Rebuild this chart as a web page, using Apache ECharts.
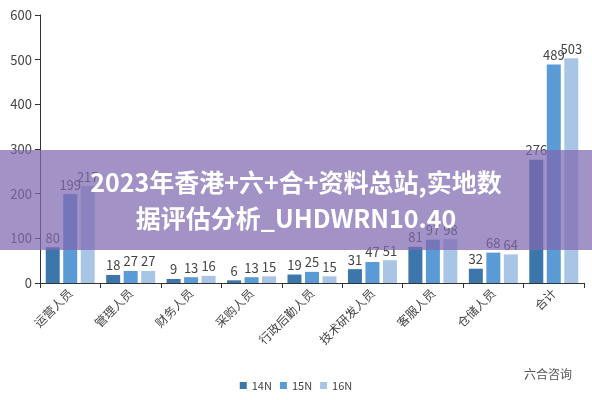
<!DOCTYPE html><html><head><meta charset="utf-8"><script src="https://cdn.jsdelivr.net/npm/echarts@6/dist/echarts.min.js"></script></head><body style="margin:0"><div id="c" style="width:592px;height:400px"></div><script>
const categories=['运营人员','管理人员','财务人员','采购人员','行政后勤人员','技术研发人员','客服人员','仓储人员','合计'];
const s14=[80,18,9,6,19,31,81,32,276];
const s15=[199,27,13,13,25,47,97,68,489];
const s16=[217,27,16,15,15,51,98,64,503];
const ch=echarts.init(document.getElementById('c'));
const mk=(n,d,c)=>({name:n,type:'bar',data:d,barWidth:14,barGap:'25%',itemStyle:{color:c},label:{show:true,position:'top',color:'#444',fontSize:13,distance:3}});
ch.setOption({
 textStyle:{fontFamily:'Noto Sans CJK SC'},
 grid:{left:40,right:8,top:15,bottom:117},
 legend:{bottom:4,left:'center',itemWidth:7,itemHeight:7,icon:'rect',textStyle:{fontSize:11,color:'#444'}},
 xAxis:{type:'category',data:categories,axisTick:{show:true,lineStyle:{color:'#333'}},axisLine:{lineStyle:{color:'#333'}},axisLabel:{rotate:45,fontSize:12,color:'#444',interval:0}},
 yAxis:{type:'value',min:0,max:600,interval:100,splitLine:{show:false},axisLine:{show:true,lineStyle:{color:'#333'}},axisTick:{show:true,lineStyle:{color:'#333'}},axisLabel:{fontSize:13,color:'#444'}},
 series:[mk('14N',s14,'#3d76aa'),mk('15N',s15,'#5b9bd5'),mk('16N',s16,'#a9c5e6')],
 graphic:[
  {type:'rect',left:0,top:150,shape:{width:592,height:100},style:{fill:'rgba(128,104,176,0.72)'},z:100},
  {type:'text',x:296,y:164,style:{text:'2023年香港+六+合+资料总站,实地数\n据评估分析_UHDWRN10.40',fill:'#fff',font:'bold 25px "Noto Sans CJK SC"',align:'center',textAlign:'center',lineHeight:36},z:101},
  {type:'text',right:20,top:368,style:{text:'六合咨询',fill:'#555',font:'12px "Noto Sans CJK SC"'},z:101}
 ]
});
</script></body></html>
